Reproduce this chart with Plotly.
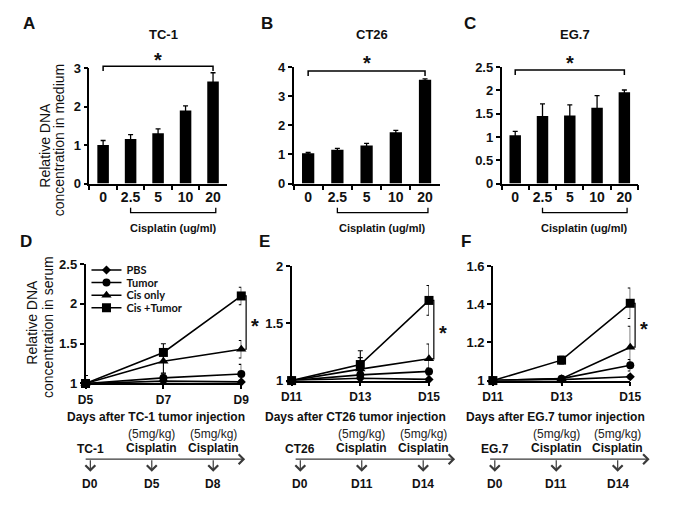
import plotly.graph_objects as go

W, H = 679, 505

# ---------------- data ----------------
doses = ["0", "2.5", "5", "10", "20"]
tc1_bar = [1.00, 1.16, 1.31, 1.90, 2.65]
tc1_bar_err = [0.12, 0.11, 0.11, 0.12, 0.23]
ct26_bar = [1.04, 1.16, 1.31, 1.76, 3.57]
ct26_bar_err = [0.03, 0.05, 0.07, 0.07, 0.03]
eg7_bar = [1.04, 1.45, 1.46, 1.63, 1.96]
eg7_bar_err = [0.08, 0.26, 0.23, 0.26, 0.05]

groups = ["PBS", "Tumor", "Cis only", "Cis +Tumor"]

days_tc1 = ["D5", "D7", "D9"]
tc1_pbs = [1.00, 1.03, 1.02]
tc1_tumor = [1.00, 1.07, 1.12]
tc1_cis = [1.00, 1.28, 1.43]
tc1_cistumor = [1.00, 1.39, 2.10]
tc1_pbs_err = [0.02, 0.02, 0.02]
tc1_tumor_err = [0.05, 0.05, 0.12]
tc1_cis_err = [0.05, 0.15, 0.11]
tc1_cistumor_err = [0.10, 0.11, 0.11]

days_ct26 = ["D11", "D13", "D15"]
ct26_pbs = [1.00, 1.02, 1.01]
ct26_tumor = [1.00, 1.05, 1.08]
ct26_cis = [1.00, 1.10, 1.19]
ct26_cistumor = [1.00, 1.14, 1.70]
ct26_pbs_err = [0.0, 0.01, 0.01]
ct26_tumor_err = [0.0, 0.03, 0.03]
ct26_cis_err = [0.0, 0.10, 0.13]
ct26_cistumor_err = [0.0, 0.12, 0.13]

days_eg7 = ["D11", "D13", "D15"]
eg7_pbs = [1.00, 1.005, 1.02]
eg7_tumor = [1.00, 1.01, 1.08]
eg7_cis = [1.00, 1.01, 1.175]
eg7_cistumor = [1.00, 1.107, 1.405]
eg7_pbs_err = [0.0, 0.005, 0.01]
eg7_tumor_err = [0.0, 0.01, 0.03]
eg7_cis_err = [0.0, 0.01, 0.11]
eg7_cistumor_err = [0.0, 0.02, 0.08]

timeline_cells = ["TC-1", "CT26", "EG.7"]
timeline_days = [["D0", "D5", "D8"], ["D0", "D11", "D14"], ["D0", "D11", "D14"]]
dose_label = "(5mg/kg)"
drug_label = "Cisplatin"

# ---------------- helpers ----------------
def xp(p):
    return p / W

def yp(p):
    return 1 - p / H

def to_paper(v, dom, rng):
    return dom[0] + (v - rng[0]) / (rng[1] - rng[0]) * (dom[1] - dom[0])

BOLD = "Liberation Sans, Arial, sans-serif"
TXT = "#111111"

fig = go.Figure()
annotations = []
shapes = []
layout_axes = {}

def label(text, x, y, size=11, bold=True, color=TXT, angle=0, xanchor="center", family=BOLD):
    annotations.append(dict(text=text, x=x, y=y, xref="paper", yref="paper", showarrow=False,
                            xanchor=xanchor, yanchor="middle", textangle=angle,
                            font=dict(family=family, size=size, color=color,
                                      weight="bold" if bold else "normal")))

axis_common = dict(showline=True, linecolor="black", linewidth=1.5, showgrid=False,
                   zeroline=False, ticks="outside", tickcolor="black", tickwidth=1.5,
                   tickangle=0)

# ---------------- bar panels ----------------
bar_panels = [
    dict(title="TC-1", letter="A", vals=tc1_bar, err=tc1_bar_err, xpx=(81, 223), ypx=(182, 63),
         rng=[0, 3], dtick=1, brk=61, star=55, letter_x=19),
    dict(title="CT26", letter="B", vals=ct26_bar, err=ct26_bar_err, xpx=(292, 443), ypx=(182, 62),
         rng=[0, 4], dtick=1, brk=66, star=58, letter_x=265),
    dict(title="EG.7", letter="C", vals=eg7_bar, err=eg7_bar_err, xpx=(507, 648), ypx=(182, 62),
         rng=[0, 2.5], dtick=0.5, brk=65, star=58, letter_x=474),
]

for i, p in enumerate(bar_panels, start=1):
    xa, ya = f"x{i}", f"y{i}"
    fig.add_trace(go.Bar(x=doses, y=p["vals"], xaxis=xa, yaxis=ya, width=0.42,
                         marker=dict(color="black", line=dict(width=0)),
                         error_y=dict(type="data", array=p["err"], color="black",
                                      thickness=1.3, width=2.5),
                         showlegend=False))
    xdom = [xp(p["xpx"][0]), xp(p["xpx"][1])]
    ydom = [yp(p["ypx"][0]), yp(p["ypx"][1])]
    xr = [-0.5, len(doses) - 0.5]
    layout_axes[f"xaxis{i}"] = dict(axis_common, domain=xdom, anchor=ya, type="category",
                                    range=xr, tickson="boundaries", ticklen=5,
                                    tickfont=dict(family=BOLD, size=14, color=TXT, weight="bold"))
    layout_axes[f"yaxis{i}"] = dict(axis_common, domain=ydom, anchor=xa, range=p["rng"],
                                    dtick=p["dtick"], ticklen=4,
                                    tickfont=dict(family=BOLD, size=13, color=TXT, weight="bold"))
    cx0 = to_paper(0, xdom, xr)
    cx1 = to_paper(len(doses) - 1, xdom, xr)
    yb = yp(p["brk"]); yb2 = yp(p["brk"] + 5)
    shapes.append(dict(type="path", xref="paper", yref="paper",
                       path=f"M{cx0},{yb2} L{cx0},{yb} L{cx1},{yb} L{cx1},{yb2}",
                       line=dict(color="black", width=1.5)))
    label("*", (cx0 + cx1) / 2, yp(p["star"]), size=20)
    lx0 = to_paper(1, xdom, xr)
    lx1 = to_paper(len(doses) - 0.9, xdom, xr)
    ly = yp(212); ly2 = yp(207)
    shapes.append(dict(type="path", xref="paper", yref="paper",
                       path=f"M{lx0},{ly2} L{lx0},{ly} L{lx1},{ly} L{lx1},{ly2}",
                       line=dict(color="black", width=1.3)))
    label("Cisplatin (ug/ml)", (lx0 + lx1) / 2, yp(228), size=11)
    label(p["title"], (xdom[0] + xdom[1]) / 2 + 0.008, yp(28), size=13)
    label(p["letter"], xp(p["letter_x"]), yp(17), size=17)

# ---------------- line panels ----------------
styles = [dict(symbol="diamond", size=7), dict(symbol="circle", size=8),
          dict(symbol="triangle-up", size=9), dict(symbol="square", size=9)]

line_panels = [
    dict(letter="D", days=days_tc1, series=[tc1_pbs, tc1_tumor, tc1_cis, tc1_cistumor],
         errs=[tc1_pbs_err, tc1_tumor_err, tc1_cis_err, tc1_cistumor_err],
         xpx=(77, 238), ypx=(388, 265), rng=[1, 2.5], dtick=0.5,
         xtitle="Days after TC-1 tumor injection", xt=150, letter_x=15),
    dict(letter="E", days=days_ct26, series=[ct26_pbs, ct26_tumor, ct26_cis, ct26_cistumor],
         errs=[ct26_pbs_err, ct26_tumor_err, ct26_cis_err, ct26_cistumor_err],
         xpx=(290, 432), ypx=(385, 267), rng=[1, 2], dtick=0.5,
         xtitle="Days after CT26 tumor injection", xt=356, letter_x=262),
    dict(letter="F", days=days_eg7, series=[eg7_pbs, eg7_tumor, eg7_cis, eg7_cistumor],
         errs=[eg7_pbs_err, eg7_tumor_err, eg7_cis_err, eg7_cistumor_err],
         xpx=(498, 640), ypx=(385, 267), rng=[1, 1.6], dtick=0.2,
         xtitle="Days after EG.7 tumor injection", xt=563, letter_x=470),
]

for k, p in enumerate(line_panels):
    i = k + 4
    xa, ya = f"x{i}", f"y{i}"
    for g, (name, vals, err, st) in enumerate(zip(groups, p["series"], p["errs"], styles)):
        fig.add_trace(go.Scatter(x=p["days"], y=vals, xaxis=xa, yaxis=ya, name=name,
                                 mode="lines+markers", cliponaxis=False,
                                 line=dict(color="black", width=1.6),
                                 marker=dict(color="black", symbol=st["symbol"], size=st["size"]),
                                 error_y=dict(type="data", array=err, color="black",
                                              thickness=1.1, width=2.5),
                                 showlegend=(k == 0),
                                 legend=("legend" if g == 0 else f"legend{g + 1}")))
    xdom = [xp(p["xpx"][0]), xp(p["xpx"][1])]
    ydom = [yp(p["ypx"][0]), yp(p["ypx"][1])]
    xr = [0, len(p["days"]) - 1]
    layout_axes[f"xaxis{i}"] = dict(axis_common, domain=xdom, anchor=ya, type="category",
                                    range=xr, ticklen=4,
                                    tickfont=dict(family=BOLD, size=12, color=TXT, weight="bold"))
    layout_axes[f"yaxis{i}"] = dict(axis_common, domain=ydom, anchor=xa, range=p["rng"],
                                    dtick=p["dtick"], ticklen=4,
                                    tickfont=dict(family=BOLD, size=13, color=TXT, weight="bold"))
    last = len(p["days"]) - 1
    bx = to_paper(last, xdom, xr) + xp(5)
    bxt = bx - xp(6)
    ytop = to_paper(p["series"][3][last], ydom, p["rng"])
    ybot = to_paper(p["series"][2][last], ydom, p["rng"])
    shapes.append(dict(type="path", xref="paper", yref="paper",
                       path=f"M{bxt},{ytop} L{bx},{ytop} L{bx},{ybot} L{bxt},{ybot}",
                       line=dict(color="black", width=1.2)))
    label("*", bx + xp(3), (ytop + ybot) / 2 - 4 / H, size=20, xanchor="left")
    label(p["xtitle"], xp(p["xt"]), yp(423), size=12)
    label(p["letter"], xp(p["letter_x"]), yp(242), size=17)

# ---------------- y axis titles ----------------
for text, x, y in [("Relative DNA", 35, 142), ("concentration in medium", 50, 137),
                   ("Relative DNA", 22, 325), ("concentration in serum", 38, 330)]:
    label(text, xp(x), yp(y), size=14, bold=False, angle=-90)

# ---------------- treatment timelines ----------------
TLC = "#3a3a3a"
for cell, days, start in zip(timeline_cells, timeline_days, [82, 299, 500]):
    step = 63.5
    annotations.append(dict(text="", x=xp(start + 160), y=yp(466), xref="paper", yref="paper",
                            ax=-161, ay=0, showarrow=True, arrowhead=4, arrowsize=1.6,
                            arrowwidth=1.2, arrowcolor=TLC, standoff=0))
    for j, d in enumerate(days):
        xx = xp(start + j * step)
        annotations.append(dict(text="", x=xx, y=yp(479), xref="paper", yref="paper",
                                ax=0, ay=-13, showarrow=True, arrowhead=4, arrowsize=1.6,
                                arrowwidth=1.2, arrowcolor=TLC, standoff=0))
        label(d, xx, yp(492), size=12)
        if j == 0:
            label(cell, xx, yp(456), size=12)
        else:
            label(dose_label, xx, yp(440), size=12, bold=False, color="#222")
            label(drug_label, xx, yp(455), size=12)

# ---------------- legends ----------------
LEG = dict(xanchor="left", yanchor="middle", bgcolor="rgba(0,0,0,0)", borderwidth=0,
           font=dict(family="Lato, Open Sans, sans-serif", size=11, color=TXT, weight="bold"),
           itemwidth=30)
legend_rows = [271, 284, 297, 310]
legends = {}
for g, row in enumerate(legend_rows):
    key = "legend" if g == 0 else f"legend{g + 1}"
    legends[key] = dict(LEG, x=xp(78), y=yp(row))

fig.update_layout(width=W, height=H, margin=dict(l=0, r=0, t=0, b=0),
                  paper_bgcolor="white", plot_bgcolor="white",
                  font=dict(family=BOLD, color=TXT),
                  bargap=0.5, annotations=annotations, shapes=shapes,
                  **layout_axes, **legends)

fig.write_html("out.html")
